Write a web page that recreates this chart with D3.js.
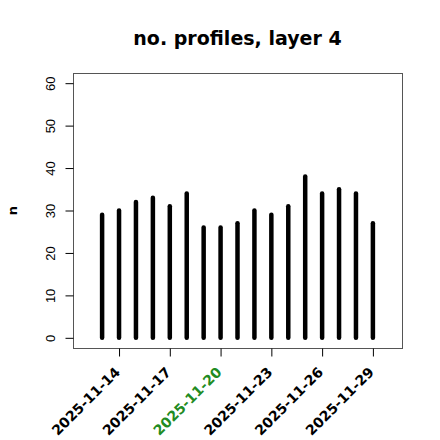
<!DOCTYPE html>
<html>
<head>
<meta charset="utf-8">
<script src="https://cdn.jsdelivr.net/npm/d3@7"></script>
<style>
  html, body { margin: 0; padding: 0; background: #fff; }
  svg { display: block; font-family: "DejaVu Sans", sans-serif; }
</style>
</head>
<body>
<svg id="chart" width="440" height="440"></svg>
<script>
const dates = ["2025-11-13","2025-11-14","2025-11-15","2025-11-16","2025-11-17","2025-11-18",
  "2025-11-19","2025-11-20","2025-11-21","2025-11-22","2025-11-23","2025-11-24",
  "2025-11-25","2025-11-26","2025-11-27","2025-11-28","2025-11-29"];
const counts = [29, 30, 32, 33, 31, 34, 26, 26, 27, 30, 29, 31, 38, 34, 35, 34, 27];
const xTickLabels = ["2025-11-14","2025-11-17","2025-11-20","2025-11-23","2025-11-26","2025-11-29"];
const highlightLabel = "2025-11-20";
const yTicks = [0, 10, 20, 30, 40, 50, 60];
const title = "no. profiles, layer 4";
const yLabel = "n";

const parse = d3.utcParse("%Y-%m-%d");
const DAY = 86400000;
const svg = d3.select("#chart");
const box = {left: 73, right: 402, top: 73, bottom: 348};

const xmin = +parse("2025-11-12") - 0.72 * DAY;
const xmax = +parse("2025-11-30") + 0.72 * DAY;
const x = d3.scaleUtc().domain([new Date(xmin), new Date(xmax)]).range([box.left, box.right]);
const y = d3.scaleLinear().domain([-2.4, 62.4]).range([box.bottom, box.top]);

// bars (type = "h")
svg.append("g").selectAll("line").data(dates).join("line")
  .attr("x1", d => x(parse(d))).attr("x2", d => x(parse(d)))
  .attr("y1", y(0)).attr("y2", (d, i) => y(counts[i]))
  .attr("stroke", "#000").attr("stroke-width", 4.5).attr("stroke-linecap", "round");

// box
svg.append("rect").attr("x", box.left + 0.5).attr("y", box.top + 0.5)
  .attr("width", box.right - box.left).attr("height", box.bottom - box.top)
  .attr("fill", "none").attr("stroke", "#555").attr("stroke-width", 1);

// y axis
const yAxis = d3.axisLeft(y).tickValues(yTicks).tickSize(8).tickPadding(0).tickFormat(d3.format("d"));
const gy = svg.append("g").attr("transform", `translate(${box.left + 0.5},0)`).call(yAxis);
gy.select(".domain").remove();
gy.selectAll(".tick line").attr("stroke", "#000");
gy.selectAll(".tick text").attr("font-size", 13).attr("fill", "#000")
  .attr("text-anchor", "middle").attr("x", 0).attr("y", 0).attr("dy", 0)
  .attr("transform", "translate(-18.5,0) rotate(-90)");

// x axis
const xAxis = d3.axisBottom(x).tickValues(xTickLabels.map(parse)).tickSize(8).tickFormat("");
const gx = svg.append("g").attr("transform", `translate(0,${box.bottom + 0.5})`).call(xAxis);
gx.select(".domain").remove();
gx.selectAll(".tick line").attr("stroke", "#000");

svg.append("g").selectAll("text").data(xTickLabels).join("text")
  .attr("transform", d => `translate(${x(parse(d)) + 2},${box.bottom + 25}) rotate(-45)`)
  .attr("text-anchor", "end")
  .attr("font-size", 14).attr("font-weight", "bold")
  .attr("fill", d => d === highlightLabel ? "#228B22" : "#000")
  .text(d => d);

// title
svg.append("text").attr("x", (box.left + box.right) / 2).attr("y", 45)
  .attr("text-anchor", "middle").attr("font-size", 19).attr("font-weight", "bold")
  .text(title);

// y label
svg.append("text").attr("transform", `translate(17,${(box.top + box.bottom) / 2}) rotate(-90)`)
  .attr("text-anchor", "middle").attr("font-size", 13).attr("font-weight", "bold")
  .text(yLabel);
</script>
</body>
</html>
